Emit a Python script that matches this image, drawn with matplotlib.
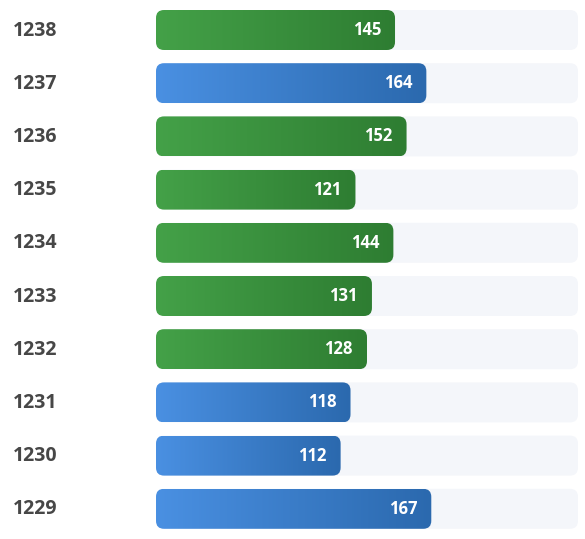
import matplotlib
matplotlib.use("Agg")
import matplotlib.pyplot as plt
import numpy as np
from matplotlib.patches import FancyBboxPatch
from matplotlib.colors import LinearSegmentedColormap

# data (top to bottom as in the picture)
labels = ['1238', '1237', '1236', '1235', '1234', '1233', '1232', '1231', '1230', '1229']
values = [145, 164, 152, 121, 144, 131, 128, 118, 112, 167]
groups = ['green', 'blue', 'green', 'green', 'green', 'green', 'green', 'blue', 'blue', 'blue']

track_max = 256

gradients = {
    'green': LinearSegmentedColormap.from_list('g', ['#44a148', '#2e7d32']),
    'blue': LinearSegmentedColormap.from_list('b', ['#4a90e2', '#2b69ae']),
}

W, H = 585, 539
fig = plt.figure(figsize=(W / 100, H / 100), dpi=100)
fig.patch.set_facecolor('white')

# bar area in pixels
left_px, right_px = 156, 578
ax = fig.add_axes([left_px / W, 0, (right_px - left_px) / W, 1])
ax.set_axis_off()

n = len(labels)
pitch = 53.2          # px between rows
top_center = 30.0     # px from top of first row
bar_h_px = 40
radius_px = 8

# index 0 is bottom row
y_pos = np.arange(n)[::-1]
y_top = (n - 1) + top_center / pitch
y_bot = y_top - H / pitch
ax.set_xlim(0, track_max)
ax.set_ylim(y_bot, y_top)

px_x = (right_px - left_px) / track_max   # px per x unit
px_y = pitch                              # px per y unit
bh = bar_h_px / px_y
rx = radius_px / px_x
aspect = px_x / px_y

for lab, val, grp, y in zip(labels, values, groups, y_pos):
    # background track
    track = FancyBboxPatch((0, y - bh / 2), track_max, bh,
                           boxstyle=f"round,pad=0,rounding_size={rx}",
                           mutation_aspect=aspect, fc='#f4f6fa', ec='none', zorder=1)
    ax.add_patch(track)

    bar = FancyBboxPatch((0, y - bh / 2), val, bh,
                         boxstyle=f"round,pad=0,rounding_size={rx}",
                         mutation_aspect=aspect, fc='none', ec='none', zorder=2)
    ax.add_patch(bar)
    grad = np.linspace(0, 1, 256).reshape(1, -1)
    im = ax.imshow(grad, cmap=gradients[grp], aspect='auto',
                   extent=(0, val, y - bh / 2, y + bh / 2), zorder=2,
                   interpolation='bilinear')
    im.set_clip_path(bar)

    ax.text(val - 14 / px_x, y, str(val), ha='right', va='center',
            color='white', fontsize=12, fontweight='bold',
            family='Open Sans', zorder=3)

    fig.text(13 / W, 1 - (top_center + 0.5 + (n - 1 - y) * pitch) / H, lab,
             ha='left', va='center', color='#474747', fontsize=14,
             fontweight='bold', family='Open Sans')

ax.set_xlim(0, track_max)
ax.set_ylim(y_bot, y_top)

fig.savefig('out.png', dpi=100, facecolor='white')
